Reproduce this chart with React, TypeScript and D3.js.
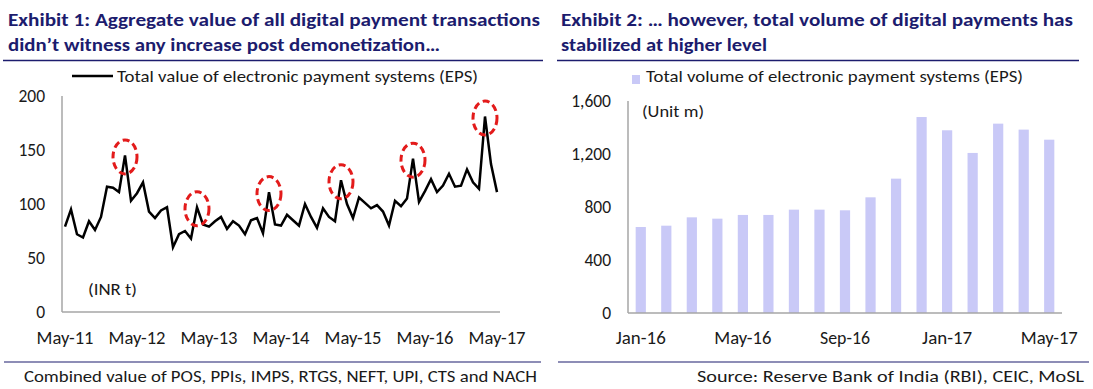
import React from 'react'
import * as d3 from 'd3'

// Exhibit 1: monthly value of EPS, May-11 .. May-17 (INR t)
const lineValues = [
  79, 95, 72, 69, 84, 76, 88, 116, 115, 111, 145, 103,
  110, 120, 93, 87, 94, 97, 60, 72, 75, 68, 97, 81,
  79, 84, 88, 77, 84, 80, 72, 85, 87, 73, 111, 81,
  80, 90, 85, 80, 100, 88, 78, 96, 88, 84, 122, 100,
  87, 106, 101, 96, 99, 93, 80, 103, 98, 105, 142, 102,
  112, 123, 111, 117, 128, 116, 117, 132, 120, 114, 181, 137,
  111,
]
const lineTickLabels = ['May-11', 'May-12', 'May-13', 'May-14', 'May-15', 'May-16', 'May-17']
const peakMonths = ['Mar-12', 'Mar-13', 'Mar-14', 'Mar-15', 'Mar-16', 'Mar-17']
const leftTicks = [0, 50, 100, 150, 200]

// Exhibit 2: monthly volume of EPS (Unit m)
const barMonths = [
  'Jan-16', 'Feb-16', 'Mar-16', 'Apr-16', 'May-16', 'Jun-16', 'Jul-16', 'Aug-16', 'Sep-16',
  'Oct-16', 'Nov-16', 'Dec-16', 'Jan-17', 'Feb-17', 'Mar-17', 'Apr-17', 'May-17',
]
const barValues = [649, 659, 722, 712, 740, 740, 780, 780, 775, 873, 1014, 1479, 1379, 1208, 1429, 1384, 1308]
const barTickLabels = ['Jan-16', 'May-16', 'Sep-16', 'Jan-17', 'May-17']
const rightTicks = [0, 400, 800, 1200, 1600]

const fmtMonth = d3.timeFormat('%b-%y')
const lineMonths = d3.timeMonth.range(new Date(2011, 4, 1), new Date(2017, 5, 1)).map(fmtMonth)

const font = 'Carlito, Calibri, Lato, sans-serif'
const navy = '#1c1c6e'
const axisGrey = '#a6a6a6'
const ink = '#1a1a1a'

export default function App() {
  // left chart scales
  const xL = d3.scaleBand().domain(lineMonths).range([62, 500]).padding(0)
  const yL = d3.scaleLinear().domain([0, 200]).range([312, 96])
  const cx = (m: string) => (xL(m) as number) + xL.bandwidth() / 2
  const line = d3.line<number>()
    .x((d, i) => cx(lineMonths[i]))
    .y(d => yL(d))

  // right chart scales
  const xR = d3.scaleBand().domain(barMonths).range([628, 1062]).paddingInner(0.6).paddingOuter(0.3)
  const yR = d3.scaleLinear().domain([0, 1600]).range([313, 101])

  return (
    <svg width={1093} height={389} style={{ position: 'absolute', left: 0, top: 0, background: '#fff' }}
      fontFamily={font}>
      {/* titles */}
      <g fill={navy} fontWeight="bold" fontSize={17}>
        <text x={8} y={26} textLength={532} lengthAdjust="spacingAndGlyphs">Exhibit 1: Aggregate value of all digital payment transactions</text>
        <text x={8} y={51} textLength={432} lengthAdjust="spacingAndGlyphs">didn’t witness any increase post demonetization…</text>
        <text x={561} y={26} textLength={512} lengthAdjust="spacingAndGlyphs">Exhibit 2: … however, total volume of digital payments has</text>
        <text x={561} y={51} textLength={206} lengthAdjust="spacingAndGlyphs">stabilized at higher level</text>
      </g>
      <line x1={3} x2={543} y1={60.5} y2={60.5} stroke={navy} strokeWidth={1.5} />
      <line x1={557} x2={1079} y1={60.5} y2={60.5} stroke={navy} strokeWidth={1.5} />

      {/* left legend */}
      <line x1={72} x2={113} y1={76} y2={76} stroke="#000" strokeWidth={2.5} />
      <text x={117} y={82} fontSize={17} fill={ink} textLength={361} lengthAdjust="spacingAndGlyphs">Total value of electronic payment systems (EPS)</text>

      {/* left axes */}
      <line x1={62} x2={62} y1={96} y2={312} stroke={axisGrey} strokeWidth={1.5} />
      <line x1={62} x2={500} y1={312} y2={312} stroke={axisGrey} strokeWidth={1.5} />
      <g fontSize={17.5} fill={ink} textAnchor="end">
        {leftTicks.map(t => (
          <text key={t} x={45} y={yL(t)} dy="0.35em">{t}</text>
        ))}
      </g>
      <g fontSize={17.5} fill={ink} textAnchor="middle">
        {lineTickLabels.map(t => (
          <text key={t} x={cx(t)} y={338} dy="0.35em" textLength={57} lengthAdjust="spacingAndGlyphs">{t}</text>
        ))}
      </g>
      <text x={88} y={289} dy="0.35em" fontSize={17} fill={ink} textLength={49} lengthAdjust="spacingAndGlyphs">(INR t)</text>

      {/* line */}
      <path d={line(lineValues) as string} fill="none" stroke="#000" strokeWidth={2.5} strokeLinejoin="miter" />
      {peakMonths.map(m => {
        const i = lineMonths.indexOf(m)
        return (
          <ellipse key={m} cx={cx(m)} cy={yL(lineValues[i]) + 1.5} rx={12} ry={17}
            fill="none" stroke="#e31b1b" strokeWidth={3} strokeDasharray="7 4" />
        )
      })}

      {/* right legend */}
      <rect x={632} y={75} width={8} height={9} fill="#c9c9f7" />
      <text x={646} y={82} fontSize={17} fill={ink} textLength={377} lengthAdjust="spacingAndGlyphs">Total volume of electronic payment systems (EPS)</text>

      {/* bars */}
      {barMonths.map((m, i) => (
        <rect key={m} x={xR(m)} y={yR(barValues[i])} width={xR.bandwidth()} height={yR(0) - yR(barValues[i])} fill="#c9c9f7" />
      ))}

      {/* right axes */}
      <line x1={628} x2={628} y1={101} y2={313} stroke={axisGrey} strokeWidth={1.5} />
      <line x1={628} x2={1062} y1={313} y2={313} stroke={axisGrey} strokeWidth={1.5} />
      <g fontSize={17.5} fill={ink} textAnchor="end">
        {rightTicks.map(t => (
          <text key={t} x={611} y={yR(t)} dy="0.35em">{d3.format(',')(t)}</text>
        ))}
      </g>
      <g fontSize={17.5} fill={ink} textAnchor="middle">
        {barTickLabels.map(t => (
          <text key={t} x={(xR(t) as number) + xR.bandwidth() / 2} y={338} dy="0.35em" textLength={t.startsWith('May') ? 57 : 50} lengthAdjust="spacingAndGlyphs">{t}</text>
        ))}
      </g>
      <text x={642} y={111} dy="0.35em" fontSize={17} fill={ink} textLength={62} lengthAdjust="spacingAndGlyphs">(Unit m)</text>

      {/* footer */}
      <line x1={4} x2={541} y1={362} y2={362} stroke={navy} strokeWidth={1.2} />
      <line x1={558} x2={1089} y1={362} y2={362} stroke={navy} strokeWidth={1.2} />
      <text x={24} y={382} fontSize={16.5} fill={ink} textLength={513} lengthAdjust="spacingAndGlyphs">Combined value of POS, PPIs, IMPS, RTGS, NEFT, UPI, CTS and NACH</text>
      <text x={1084} y={382} fontSize={16.5} fill={ink} textAnchor="end" textLength={387} lengthAdjust="spacingAndGlyphs">Source: Reserve Bank of India (RBI), CEIC, MoSL</text>
    </svg>
  )
}
